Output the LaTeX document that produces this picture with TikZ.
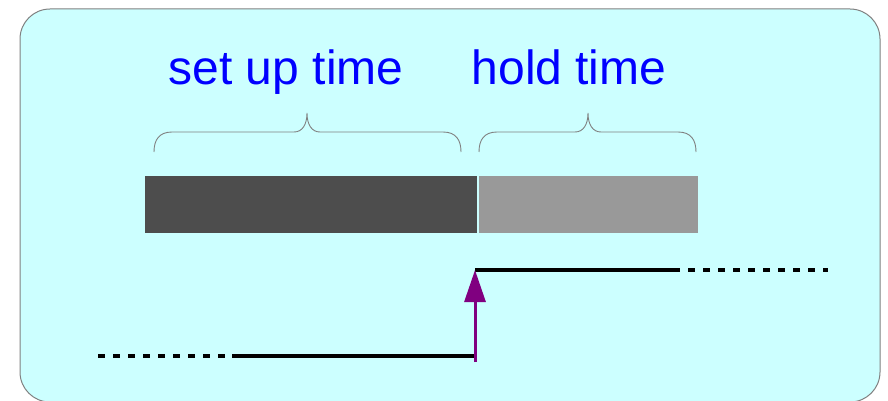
\documentclass[tikz,border=0pt]{standalone}
\usepackage{fontspec}
\setmainfont{Liberation Sans}
\usetikzlibrary{arrows.meta}
\definecolor{panel}{HTML}{CCFFFF}
\definecolor{edge}{HTML}{808080}
\definecolor{darkbar}{HTML}{4D4D4D}
\definecolor{lightbar}{HTML}{999999}
\definecolor{arrowpurple}{HTML}{800080}
\tikzset{
  lbl/.style={text=blue, font=\fontsize{48}{56}\selectfont, anchor=base, inner sep=0pt},
  bar/.style={draw=none, minimum height=57pt, inner sep=0pt, anchor=north west},
  brace/.style={draw=edge, line width=0.9pt},
  sig/.style={black, line width=3.5pt},
  sigdash/.style={black, line width=3.5pt, dash pattern=on 7pt off 8pt},
  rise/.style={arrowpurple, line width=3pt, -{Triangle[length=32pt,width=21pt]}}
}
\begin{document}
\begin{tikzpicture}[x=1pt,y=-1pt]
\useasboundingbox (0,0) rectangle (888,401);
\draw[edge, fill=panel, line width=1pt, rounded corners=30pt] (20,9) rectangle (880,402);
\node[lbl] (setup) at (286,85) {set up time};
\node[lbl] (hold) at (569,85) {hold time};
% braces
\draw[brace] (154,152) .. controls (154,140) and (159,132) .. (172,132) -- (294,132)
  .. controls (302,132) and (307,125) .. (307,113) .. controls (307,125) and (312,132) .. (320,132)
  -- (443,132) .. controls (456,132) and (461,140) .. (461,152);
\draw[brace] (479,152) .. controls (479,140) and (484,132) .. (497,132) -- (575,132)
  .. controls (583,132) and (588,125) .. (588,113) .. controls (588,125) and (593,132) .. (601,132)
  -- (678,132) .. controls (691,132) and (696,140) .. (696,152);
% bars
\node[bar, fill=darkbar, minimum width=332pt] (setupbar) at (145,176) {};
\node[bar, fill=lightbar, minimum width=219pt] (holdbar) at (479,176) {};
% signal
\coordinate (lowstart) at (98,356);
\coordinate (lowsolid) at (232,356);
\coordinate (edgelow) at (475,356);
\coordinate (edgehigh) at (475,270);
\coordinate (highsolid) at (680,270);
\coordinate (highdash) at (688,270);
\coordinate (highend) at (828,270);
\coordinate (arrowbase) at (475,362);
\draw[sigdash] (lowstart) -- (lowsolid);
\draw[sig] (lowsolid) -- (edgelow);
\draw[sig] (edgehigh) -- (highsolid);
\draw[sigdash] (highdash) -- (highend);
\draw[rise] (arrowbase) -- (edgehigh);
\end{tikzpicture}
\end{document}
